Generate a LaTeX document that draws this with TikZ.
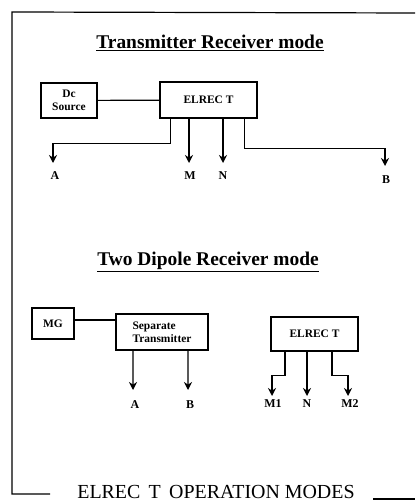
\documentclass[tikz,border=0pt]{standalone}
\usepackage{fontspec}
\setmainfont{Liberation Serif}
\usetikzlibrary{arrows.meta}
\tikzset{
  box/.style={draw, line width=1.2bp, inner sep=2bp},
  wire/.style={line width=1.2bp},
  arr/.style={line width=1.2bp, -{Stealth[length=8bp,width=8bp]}},
  lab/.style={font=\bfseries\fontsize{12}{12}\selectfont, inner sep=0pt, anchor=north},
  boxtxt/.style={font=\bfseries\fontsize{11.5}{13}\selectfont},
  ttl/.style={font=\bfseries\fontsize{19.5}{22}\selectfont, inner sep=1pt},
  frame/.style={line width=1.2bp}
}
\begin{document}
\begin{tikzpicture}[x=1bp,y=-1bp]
\useasboundingbox (0,0) rectangle (415,502);
% frame
\coordinate (ftr) at (415,13);
\coordinate (ftl) at (12,12);
\coordinate (fbl) at (12,494);
\coordinate (fbm) at (50,494);
\coordinate (fbr1) at (373,499);
\coordinate (fbr2) at (415,499);
\draw[frame] (ftr) -- (ftl) -- (fbl) -- (fbm);
\draw[frame] (fbr1) -- (fbr2);
\node[font=\fontsize{20}{22}\selectfont, inner sep=0pt] (cap) at (216,492) {ELREC\, T\, OPERATION MODES};

% Section 1
\node[ttl] (t1) at (210,43) {\underline{Transmitter Receiver mode}};
\node[box, minimum width=56bp, minimum height=35bp, align=center, boxtxt] (dc) at (69,100.5) {Dc\\Source};
\node[box, minimum width=97bp, minimum height=36bp, boxtxt] (el) at (208.5,100) {ELREC T};
\draw[wire] (dc) -- (el);

\node[lab] (a1) at (55,171) {A};
\node[lab] (m1) at (190,171) {M};
\node[lab] (n1) at (223,171) {N};
\node[lab] (b1) at (386,175) {B};
\draw[arr] ([xshift=11bp]el.south west) -- ++(0,25) -| ([yshift=8bp,xshift=-2bp]a1.north);
\draw[arr] (el.south -| 189,0) -- ([yshift=8bp,xshift=-1bp]m1.north);
\draw[arr] (el.south -| n1) -- ([yshift=8bp]n1.north);
\draw[arr] ([xshift=-13bp]el.south east) -- ++(0,30) -| ([yshift=9bp,xshift=-1bp]b1.north);

% Section 2
\node[ttl] (t2) at (208,262) {\underline{Two Dipole Receiver mode}};
\node[box, minimum width=42bp, minimum height=31bp, boxtxt] (mg) at (53,323.5) {MG};
\node[box, minimum width=92bp, minimum height=36bp, align=left, boxtxt, inner xsep=6bp] (st) at (162,332) {Separate\\Transmitter};
\draw[wire] (mg.east |- 0,320) -- (st.west |- 0,320);
\node[lab] (a2) at (135,400) {A};
\node[lab] (b2) at (190,400) {B};
\draw[arr] (st.south -| 133,0) -- ([yshift=10bp,xshift=-2bp]a2.north);
\draw[arr] (st.south -| 188,0) -- ([yshift=10bp,xshift=-2bp]b2.north);

\node[box, minimum width=87bp, minimum height=34bp, boxtxt] (el2) at (314.5,334) {ELREC T};
\node[lab] (m12) at (273,399) {M1};
\node[lab] (n2) at (307,399) {N};
\node[lab] (m22) at (350,399) {M2};
\draw[arr] (el2.south -| 285,0) -- ++(0,24) -| ([yshift=3bp,xshift=-1bp]m12.north);
\draw[arr] (el2.south -| n2) -- ([yshift=3bp]n2.north);
\draw[arr] (el2.south -| 332,0) -- ++(0,24) -| ([yshift=3bp,xshift=-2bp]m22.north);
\end{tikzpicture}
\end{document}
